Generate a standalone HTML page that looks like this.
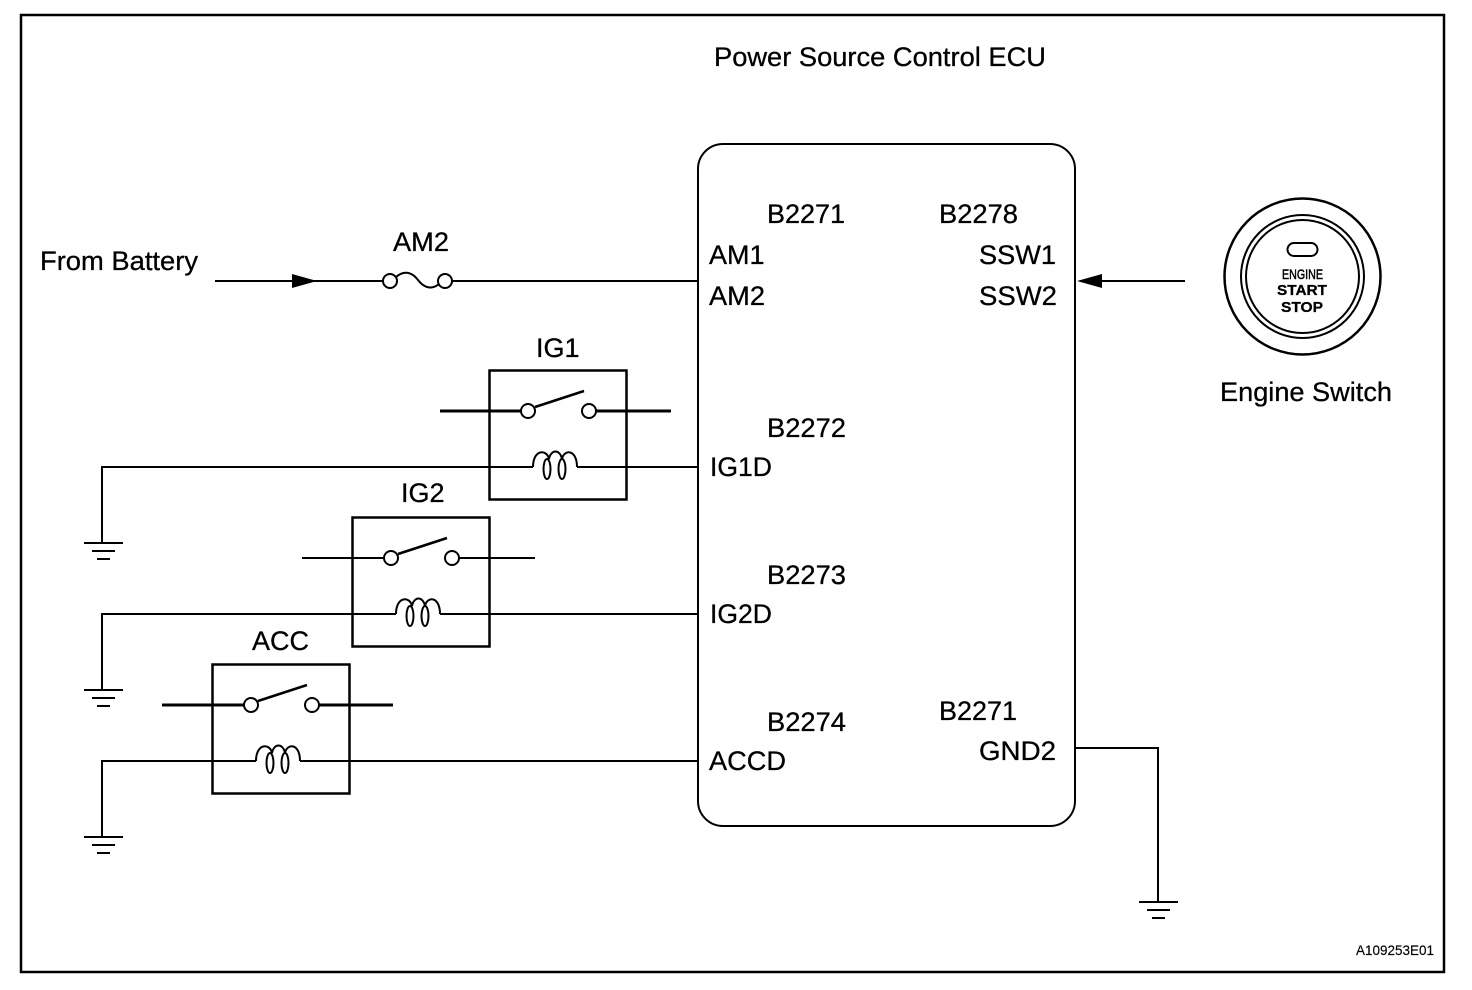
<!DOCTYPE html>
<html><head><meta charset="utf-8"><style>
html,body{margin:0;padding:0;background:#fff}
svg{display:block}
text{font-family:"Liberation Sans",Arial,sans-serif;font-size:27px;fill:#000;stroke:#000;stroke-width:.3px}
.l{fill:none;stroke:#000;stroke-width:2}
.t{fill:none;stroke:#000;stroke-width:3}
</style></head><body>
<svg width="1472" height="990" viewBox="0 0 1472 990" xmlns="http://www.w3.org/2000/svg">
<defs>
<g id="relay">
<rect x="489.5" y="370.5" width="137" height="129" class="l" style="stroke-width:2.5"/>
<circle cx="528" cy="411" r="7" class="l" style="fill:#fff"/>
<circle cx="589" cy="411" r="7" class="l" style="fill:#fff"/>
<path d="M535 407L584 391" class="l" style="stroke-width:2.5"/>
<path d="M533 467C533 449 547 449 549 459C551 449 560 449 562 459C564 449 577 449 577 467" class="l"/>
<ellipse cx="547" cy="469" rx="3.5" ry="10" class="l"/>
<ellipse cx="562" cy="469" rx="3.5" ry="10" class="l"/>
</g>
<g id="gnd">
<path d="M0 0H39M8 8H31M13 16H26" class="l"/>
</g>
</defs>
<rect x="21" y="15" width="1423" height="957" class="l" style="stroke-width:2.5"/>
<rect x="698" y="144" width="377" height="682" rx="25" class="l"/>

<!-- battery line -->
<path d="M215 281H383M452 281H698" class="l"/>
<path d="M292 274L317 281L292 288Z" fill="#000"/>
<circle cx="390" cy="281" r="7" class="l"/>
<circle cx="445" cy="281" r="7" class="l"/>
<path d="M396 277C404 270 412 272 418 280C424 288 432 290 439 284" class="l"/>

<!-- switch arrow -->
<path d="M1085 281H1185" class="l"/>
<path d="M1077 281L1102 274V288Z" fill="#000"/>

<!-- IG1 -->
<use href="#relay"/>
<path d="M440 411H521M596 411H671" class="t"/>
<path d="M102 543V467H533M577 467H698" class="l"/>
<use href="#gnd" x="84" y="543"/>

<!-- IG2 -->
<use href="#relay" transform="translate(-137,147)"/>
<path d="M302 558H384M459 558H535" class="l"/>
<path d="M102 690V614H396M440 614H698" class="l"/>
<use href="#gnd" x="84" y="690"/>

<!-- ACC -->
<use href="#relay" transform="translate(-277,294)"/>
<path d="M162 705H244M318 705H393" class="t"/>
<path d="M102 837V761H256M300 761H698" class="l"/>
<use href="#gnd" x="84" y="837"/>

<!-- GND2 -->
<path d="M1075 748H1158V902" class="l"/>
<use href="#gnd" x="1139" y="902"/>

<!-- Engine switch -->
<circle cx="1302.5" cy="276.5" r="78" class="l" style="stroke-width:2.5"/>
<circle cx="1302.5" cy="276.5" r="61.5" class="l"/>
<circle cx="1302.5" cy="276.5" r="56.5" class="l"/>
<rect x="1287.5" y="243" width="30" height="13" rx="6.5" class="l"/>
<text x="1282" y="279" style="font-size:14px;stroke-width:.5px" textLength="41" lengthAdjust="spacingAndGlyphs">ENGINE</text>
<text x="1277" y="295" style="font-size:15px;font-weight:bold" textLength="50" lengthAdjust="spacingAndGlyphs">START</text>
<text x="1281" y="312" style="font-size:15px;font-weight:bold" textLength="42" lengthAdjust="spacingAndGlyphs">STOP</text>

<!-- Labels -->
<text x="714" y="66" textLength="332" lengthAdjust="spacingAndGlyphs">Power Source Control ECU</text>
<text x="40" y="270" textLength="158" lengthAdjust="spacingAndGlyphs">From Battery</text>
<text x="393" y="251" textLength="56" lengthAdjust="spacingAndGlyphs">AM2</text>
<text x="536" y="357">IG1</text>
<text x="401" y="502">IG2</text>
<text x="252" y="650">ACC</text>
<text x="767" y="223" textLength="78" lengthAdjust="spacingAndGlyphs">B2271</text>
<text x="939" y="223" textLength="79" lengthAdjust="spacingAndGlyphs">B2278</text>
<text x="709" y="264">AM1</text>
<text x="709" y="305" textLength="56" lengthAdjust="spacingAndGlyphs">AM2</text>
<text x="979" y="264" textLength="77" lengthAdjust="spacingAndGlyphs">SSW1</text>
<text x="979" y="305" textLength="78" lengthAdjust="spacingAndGlyphs">SSW2</text>
<text x="767" y="437" textLength="79" lengthAdjust="spacingAndGlyphs">B2272</text>
<text x="710" y="476" textLength="62" lengthAdjust="spacingAndGlyphs">IG1D</text>
<text x="767" y="584" textLength="79" lengthAdjust="spacingAndGlyphs">B2273</text>
<text x="710" y="623" textLength="62" lengthAdjust="spacingAndGlyphs">IG2D</text>
<text x="767" y="731" textLength="79" lengthAdjust="spacingAndGlyphs">B2274</text>
<text x="709" y="770" textLength="77" lengthAdjust="spacingAndGlyphs">ACCD</text>
<text x="939" y="720" textLength="78" lengthAdjust="spacingAndGlyphs">B2271</text>
<text x="979" y="760" textLength="77" lengthAdjust="spacingAndGlyphs">GND2</text>
<text x="1220" y="401" textLength="172" lengthAdjust="spacingAndGlyphs">Engine Switch</text>
<text x="1356" y="955" style="font-size:14px;stroke-width:.15px" textLength="78" lengthAdjust="spacingAndGlyphs">A109253E01</text>
</svg>
</body></html>
